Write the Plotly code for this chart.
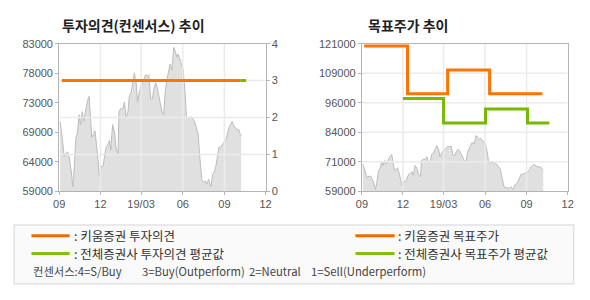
import plotly.graph_objects as go

# ---------------- data ----------------
price_dates = [
    "2018-09-03", "2018-09-06", "2018-09-10", "2018-09-12", "2018-09-14", "2018-09-20",
    "2018-09-24", "2018-09-28", "2018-10-01", "2018-10-04", "2018-10-08", "2018-10-11",
    "2018-10-15", "2018-10-18", "2018-10-22", "2018-10-25", "2018-10-30", "2018-11-02",
    "2018-11-06", "2018-11-09", "2018-11-12", "2018-11-16", "2018-11-19", "2018-11-23",
    "2018-11-27", "2018-11-29", "2018-12-03", "2018-12-07", "2018-12-11", "2018-12-14",
    "2018-12-18", "2018-12-21", "2018-12-24", "2018-12-28", "2019-01-02", "2019-01-04",
    "2019-01-09", "2019-01-11", "2019-01-15", "2019-01-20", "2019-01-23", "2019-01-27",
    "2019-01-31", "2019-02-03", "2019-02-07", "2019-02-10", "2019-02-14", "2019-02-18",
    "2019-02-21", "2019-02-25", "2019-02-28", "2019-03-04", "2019-03-08", "2019-03-11",
    "2019-03-15", "2019-03-18", "2019-03-22", "2019-03-26", "2019-03-29", "2019-04-02",
    "2019-04-05", "2019-04-09", "2019-04-13", "2019-04-16", "2019-04-20", "2019-04-23",
    "2019-04-27", "2019-05-01", "2019-05-04", "2019-05-08", "2019-05-12", "2019-05-15",
    "2019-05-19", "2019-05-22", "2019-05-26", "2019-05-30", "2019-06-02", "2019-06-06",
    "2019-06-09", "2019-06-13", "2019-06-17", "2019-06-20", "2019-06-24", "2019-06-27",
    "2019-07-01", "2019-07-05", "2019-07-08", "2019-07-10", "2019-07-13", "2019-07-17",
    "2019-07-21", "2019-07-24", "2019-07-28", "2019-07-31", "2019-08-02", "2019-08-06",
    "2019-08-10", "2019-08-13", "2019-08-17", "2019-08-20", "2019-08-24", "2019-08-28",
    "2019-08-31", "2019-09-04", "2019-09-08", "2019-09-11", "2019-09-15", "2019-09-18",
    "2019-09-22", "2019-09-26", "2019-09-29", "2019-10-03", "2019-10-06", "2019-10-08",
]
price_values = [
    70350, 68850, 66200, 64600, 65100, 65400,
    64100, 62050, 59700, 62550, 67800, 68300,
    71450, 69850, 71950, 70350, 72450, 73550,
    74450, 71450, 67800, 68300, 68850, 66200,
    62550, 61450, 63050, 63050, 65100, 66200,
    66700, 67250, 65700, 69850, 68250, 66200,
    65100, 71950, 72450, 72450, 73500, 70950,
    71950, 74600, 75100, 76700, 78250, 76650,
    73500, 75100, 76050, 76650, 77450, 77950,
    77750, 77950, 74000, 74000, 75600, 76650,
    76050, 74600, 73500, 71950, 71450, 75100,
    77150, 78750, 79700, 78750, 82400, 81900,
    80800, 81300, 80300, 79700, 78750, 75100,
    71150, 70950, 70950, 71150, 70650, 70350,
    69350, 68250, 65100, 63550, 60950, 60450,
    60650, 60150, 60950, 60150, 59700, 61750,
    62250, 63050, 65100, 66200, 66200, 66700,
    67000, 67250, 68250, 69350, 69850, 70350,
    69550, 69350, 69050, 69050, 68250, 67950,
]

# investment opinion (1~4 scale)
kiwoom_op_dates = ["2018-09-07", "2019-10-06"]
kiwoom_op_values = [3, 3]
consensus_op_dates = ["2019-02-27", "2019-06-05", None, "2019-10-06", "2019-10-19"]
consensus_op_values = [3, 3, None, 3, 3]

# target price (step)
kiwoom_tp_dates = ["2018-09-06", "2018-12-11", "2019-03-10", "2019-06-11", "2019-10-06"]
kiwoom_tp_values = [120000, 100000, 110000, 100000, 100000]
consensus_tp_dates = ["2018-12-01", "2019-03-01", "2019-06-02", "2019-09-03", "2019-10-16", "2019-10-18"]
consensus_tp_values = [98000, 87700, 93600, 87700, 87700, 88300]

# axes
x_tick_dates = ["2018-09-01", "2018-12-01", "2019-03-01", "2019-06-01", "2019-09-01", "2019-12-01"]
x_tick_text = ["09", "12", "19/03", "06", "09", "12"]
left_price_ticks = [59000, 63800, 68600, 73400, 78200, 83000]
left_price_text = ["59000", "64000", "69000", "73000", "78000", "83000"]
opinion_ticks = [0, 1, 2, 3, 4]
right_price_ticks = [59000, 71400, 83800, 96200, 108600, 121000]
right_price_text = ["59000", "71000", "84000", "96000", "109000", "121000"]

# ---------------- style ----------------
W, H = 590, 300
ORANGE = "#ff7300"
ORANGE_LEG = "#ec6c00"
GREEN = "#77b800"
GREEN_LEG = "#80c010"
FILL = "#e0e0e0"
PLINE = "#bcbcbc"
GRID = "#ebebeb"
FRAME = "#b4b4b4"
TICKC = "#555555"
NUMFONT = "Liberation Sans, Arial, sans-serif"
KFONT = "Noto Sans CJK KR, sans-serif"

def px_x(v):
    return v / W

def px_y(v):
    return (H - v) / H

xl_dom = [px_x(54.3), px_x(265)]
xr_dom = [px_x(363.3), px_x(573.3)]
y_dom = [px_y(193), px_y(39.3)]
x_range = [x_tick_dates[0], x_tick_dates[-1]]


def grid_segments(xticks, yticks, xr, yr):
    xs, ys = [], []
    for t in xticks[1:-1]:
        xs += [t, t, None]
        ys += [yr[0], yr[1], None]
    for v in yticks[1:-1]:
        xs += [xr[0], xr[1], None]
        ys += [v, v, None]
    return xs, ys


fig = go.Figure()

# ---- left chart ----
fig.add_trace(go.Scatter(x=price_dates, y=price_values, mode="lines", fill="tozeroy",
                         fillcolor=FILL, line=dict(color=PLINE, width=1),
                         xaxis="x", yaxis="y", showlegend=False, hoverinfo="skip"))
gx, gy = grid_segments(x_tick_dates, opinion_ticks, x_range, [0, 4])
fig.add_trace(go.Scatter(x=gx, y=gy, mode="lines", line=dict(color=GRID, width=1.5),
                         xaxis="x", yaxis="y2", showlegend=False, hoverinfo="skip"))
fig.add_trace(go.Scatter(x=consensus_op_dates, y=consensus_op_values, mode="lines",
                         line=dict(color=GREEN, width=3), connectgaps=False,
                         xaxis="x", yaxis="y2", showlegend=False))
fig.add_trace(go.Scatter(x=kiwoom_op_dates, y=kiwoom_op_values, mode="lines",
                         line=dict(color=ORANGE, width=3),
                         xaxis="x", yaxis="y2", showlegend=False))

# ---- right chart ----
fig.add_trace(go.Scatter(x=price_dates, y=price_values, mode="lines", fill="tozeroy",
                         fillcolor=FILL, line=dict(color=PLINE, width=1),
                         xaxis="x2", yaxis="y3", showlegend=False, hoverinfo="skip"))
gx, gy = grid_segments(x_tick_dates, right_price_ticks, x_range,
                       [right_price_ticks[0], right_price_ticks[-1]])
fig.add_trace(go.Scatter(x=gx, y=gy, mode="lines", line=dict(color=GRID, width=1.5),
                         xaxis="x2", yaxis="y3", showlegend=False, hoverinfo="skip"))
fig.add_trace(go.Scatter(x=consensus_tp_dates, y=consensus_tp_values, mode="lines",
                         line=dict(color=GREEN, width=3, shape="hv"),
                         xaxis="x2", yaxis="y3", showlegend=False))
fig.add_trace(go.Scatter(x=kiwoom_tp_dates, y=kiwoom_tp_values, mode="lines",
                         line=dict(color=ORANGE, width=3, shape="hv"),
                         xaxis="x2", yaxis="y3", showlegend=False))

axis_common = dict(showline=True, linecolor=FRAME, linewidth=1, showgrid=False,
                   zeroline=False, ticks="outside", ticklen=3, tickcolor=FRAME,
                   tickfont=dict(family=NUMFONT, size=11, color=TICKC), fixedrange=True)

fig.update_layout(
    width=W, height=H, margin=dict(l=0, r=0, t=0, b=0),
    paper_bgcolor="white", plot_bgcolor="white", showlegend=False,
    xaxis=dict(axis_common, domain=xl_dom, anchor="y", type="date", range=x_range,
               tickmode="array", tickvals=x_tick_dates, ticktext=x_tick_text, mirror=True),
    yaxis=dict(axis_common, domain=y_dom, anchor="x", range=[left_price_ticks[0], left_price_ticks[-1]],
               tickmode="array", tickvals=left_price_ticks, ticktext=left_price_text),
    yaxis2=dict(axis_common, overlaying="y", anchor="x", side="right", range=[0, 4],
                tickmode="array", tickvals=opinion_ticks),
    xaxis2=dict(axis_common, domain=xr_dom, anchor="y3", type="date", range=x_range,
                tickmode="array", tickvals=x_tick_dates, ticktext=x_tick_text, mirror=True),
    yaxis3=dict(axis_common, domain=y_dom, anchor="x2",
                range=[right_price_ticks[0], right_price_ticks[-1]],
                tickmode="array", tickvals=right_price_ticks, ticktext=right_price_text,
                mirror=True),
)

# titles
annotations = [
    dict(text="<b>투자의견(컨센서스) 추이</b>", x=px_x(55), y=px_y(20)),
    dict(text="<b>목표주가 추이</b>", x=px_x(367), y=px_y(20)),
]
for a in annotations:
    a.update(xref="paper", yref="paper", xanchor="left", yanchor="middle", showarrow=False,
             font=dict(family=KFONT, size=14, color="#222222"))

# legend box
shapes = [dict(type="rect", xref="paper", yref="paper", x0=px_x(8.3), x1=px_x(579.5),
               y0=px_y(289.3), y1=px_y(228), fillcolor="#fafafa",
               line=dict(color="#e2e2e2", width=1.5), layer="below")]

legend_items = [
    (": 키움증권 투자의견", ORANGE_LEG, 26, 65, 67.5, 239.3),
    (": 전체증권사 투자의견 평균값", GREEN_LEG, 26, 65, 67.5, 257.7),
    (": 키움증권 목표주가", ORANGE_LEG, 356.7, 396.7, 398.5, 239.3),
    (": 전체증권사 목표주가 평균값", GREEN_LEG, 356.7, 396.7, 398.5, 257.7),
]
for text, col, lx0, lx1, tx, ty in legend_items:
    shapes.append(dict(type="line", xref="paper", yref="paper", x0=px_x(lx0), x1=px_x(lx1),
                       y0=px_y(ty), y1=px_y(ty), line=dict(color=col, width=3)))
    annotations.append(dict(text=text, x=px_x(tx), y=px_y(ty), xref="paper", yref="paper",
                            xanchor="left", yanchor="middle", showarrow=False,
                            font=dict(family=KFONT, size=12.5, color="#333333")))

consensus_notes = [("컨센서스:4=S/Buy", 26), ("3=Buy(Outperform)", 137),
                   ("2=Neutral", 246), ("1=Sell(Underperform)", 309)]
for text, tx in consensus_notes:
    annotations.append(dict(text=text, x=px_x(tx), y=px_y(276), xref="paper", yref="paper",
                            xanchor="left", yanchor="middle", showarrow=False,
                            font=dict(family=KFONT, size=11.3, color="#444444")))

fig.update_layout(annotations=annotations, shapes=shapes)
fig.write_html("out.html")
